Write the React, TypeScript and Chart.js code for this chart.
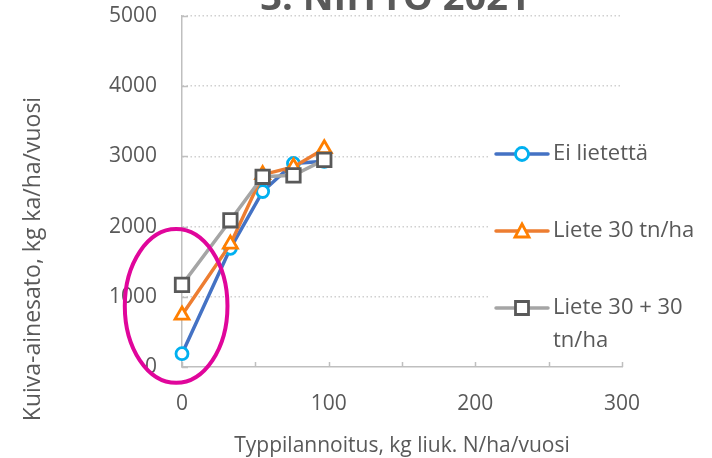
import { useEffect, useRef } from "react";
import { Chart, registerables } from "chart.js";

Chart.register(...registerables);

// ---- data ----
const nitrogenRates = [0, 33, 55, 76, 97];
const eiLietetta = [190, 1690, 2500, 2900, 2930];
const liete30 = [740, 1750, 2740, 2850, 3110];
const liete3030 = [1170, 2090, 2710, 2730, 2950];
const seriesNames = ["Ei lietettä", "Liete 30 tn/ha", "Liete 30 + 30 tn/ha"];
const xTickValues = [0, 100, 200, 300];
const xMinorTickValues = [0, 50, 100, 150, 200, 250, 300];
const yTickValues = [0, 1000, 2000, 3000, 4000, 5000];
const chartTitle = "3. NIITTO 2021";
const xTitle = "Typpilannoitus, kg liuk. N/ha/vuosi";
const yTitle = "Kuiva-ainesato, kg ka/ha/vuosi";
// highlight ellipse (data units): centre x, centre y, radius x, radius y
const highlight = { cx: -4, cy: 870, rx: 35, ry: 1095 };

const FONT = "'Open Sans', 'Noto Sans', sans-serif";
const TEXT = "#595959";

const lineColors = ["#4472C4", "#ED7D31", "#A5A5A5"];
const markerColors = ["#00B0F0", "#FF7F00", "#595959"];
const markerStyles = ["circle", "triangle", "rect"] as const;
const markerRadii = [6, 8, 9.5];

const overlayPlugin = {
  id: "overlay",
  afterDraw(chart: any) {
    const { ctx, chartArea } = chart;
    const xs = chart.scales.x;
    const ys = chart.scales.y;
    ctx.save();

    // inner tick marks
    ctx.strokeStyle = "#bfbfbf";
    ctx.lineWidth = 1.5;
    ctx.setLineDash([]);
    for (const v of xMinorTickValues) {
      const px = Math.round(xs.getPixelForValue(v)) + 0.5;
      ctx.beginPath();
      ctx.moveTo(px, chartArea.bottom);
      ctx.lineTo(px, chartArea.bottom - 5);
      ctx.stroke();
    }
    for (const v of yTickValues) {
      const py = Math.round(ys.getPixelForValue(v)) + 0.5;
      ctx.beginPath();
      ctx.moveTo(chartArea.left, py);
      ctx.lineTo(chartArea.left + 6, py);
      ctx.stroke();
    }

    // chart title (partly outside the top)
    ctx.fillStyle = TEXT;
    ctx.font = `bold 38px ${FONT}`;
    ctx.textAlign = "center";
    ctx.textBaseline = "alphabetic";
    ctx.fillText(chartTitle, 395, 10);

    // axis titles
    ctx.font = `21px ${FONT}`;
    ctx.textBaseline = "middle";
    ctx.fillText(xTitle, (chartArea.left + chartArea.right) / 2, 446);
    ctx.save();
    ctx.font = `23px ${FONT}`;
    ctx.translate(33, 259);
    ctx.rotate(-Math.PI / 2);
    ctx.fillText(yTitle, 0, 0);
    ctx.restore();

    // legend
    ctx.fillStyle = "#ffffff";
    ctx.fillRect(488, 122, 224, 240);
    const rows = [
      { y: 154, lines: ["Ei lietettä"] },
      { y: 231, lines: ["Liete 30 tn/ha"] },
      { y: 308, lines: ["Liete 30 + 30", "tn/ha"] },
    ];
    rows.forEach((r, i) => {
      ctx.strokeStyle = lineColors[i];
      ctx.lineWidth = 3.5;
      ctx.lineCap = "round";
      ctx.beginPath();
      ctx.moveTo(496, r.y);
      ctx.lineTo(548, r.y);
      ctx.stroke();
      ctx.lineCap = "butt";
      ctx.strokeStyle = markerColors[i];
      ctx.fillStyle = "#ffffff";
      ctx.lineWidth = 2.8;
      ctx.beginPath();
      if (i === 0) {
        ctx.arc(522, r.y, 6.5, 0, Math.PI * 2);
      } else if (i === 1) {
        ctx.moveTo(522, r.y - 7);
        ctx.lineTo(529, r.y + 6);
        ctx.lineTo(515, r.y + 6);
        ctx.closePath();
      } else {
        ctx.rect(515.5, r.y - 6.5, 13, 13);
      }
      ctx.fill();
      ctx.stroke();
      ctx.fillStyle = TEXT;
      ctx.font = `22px ${FONT}`;
      ctx.textAlign = "left";
      ctx.textBaseline = "middle";
      r.lines.forEach((t, j) => ctx.fillText(t, 553, r.y + j * 33));
    });

    // highlight ellipse
    const cx = xs.getPixelForValue(highlight.cx);
    const cy = ys.getPixelForValue(highlight.cy);
    const rx = Math.abs(xs.getPixelForValue(highlight.cx + highlight.rx) - cx);
    const ry = Math.abs(ys.getPixelForValue(highlight.cy + highlight.ry) - cy);
    ctx.strokeStyle = "#E0069B";
    ctx.lineWidth = 4;
    ctx.beginPath();
    ctx.ellipse(cx, cy, rx, ry, 0, 0, Math.PI * 2);
    ctx.stroke();

    ctx.restore();
  },
};

export default function App() {
  const ref = useRef<HTMLCanvasElement | null>(null);

  useEffect(() => {
    if (!ref.current) return;
    const mk = (vals: number[], i: number) => ({
      label: seriesNames[i],
      data: nitrogenRates.map((x, k) => ({ x, y: vals[k] })),
      borderColor: lineColors[i],
      backgroundColor: "#ffffff",
      borderWidth: 3.5,
      pointStyle: markerStyles[i],
      pointRadius: markerRadii[i],
      pointBorderColor: markerColors[i],
      pointBackgroundColor: "#ffffff",
      pointBorderWidth: 2.8,
      tension: 0,
      clip: false as any,
      order: 3 - i,
    });
    const chart = new Chart(ref.current, {
      type: "line",
      data: {
        datasets: [mk(eiLietetta, 0), mk(liete30, 1), mk(liete3030, 2)],
      },
      options: {
        responsive: false,
        animation: false,
        devicePixelRatio: 1,
        layout: { padding: { left: 0, top: 16, right: 90, bottom: 0 } },
        plugins: {
          legend: { display: false },
          tooltip: { enabled: false },
          title: { display: false },
        },
        scales: {
          x: {
            type: "linear",
            min: 0,
            max: 300,
            afterBuildTicks: (s: any) => {
              s.ticks = xTickValues.map((v) => ({ value: v }));
            },
            afterFit: (s: any) => {
              s.height = 91;
              s.paddingLeft = 0;
              s.paddingRight = 0;
              s.paddingTop = 0;
              s.paddingBottom = 0;
            },
            ticks: {
              color: TEXT,
              font: { family: FONT, size: 21 },
              padding: 24,
              maxRotation: 0,
              autoSkip: false,
              callback: (v: any) => String(v),
            },
            grid: { display: true, drawOnChartArea: false, drawTicks: false },
            border: { display: true, color: "#bfbfbf", width: 1.5 },
          },
          y: {
            type: "linear",
            min: 0,
            max: 5000,
            afterBuildTicks: (s: any) => {
              s.ticks = yTickValues.map((v) => ({ value: v }));
            },
            afterFit: (s: any) => {
              s.width = 182;
              s.paddingLeft = 0;
              s.paddingRight = 0;
              s.paddingTop = 0;
              s.paddingBottom = 0;
            },
            ticks: {
              color: TEXT,
              font: { family: FONT, size: 21 },
              padding: 25,
              autoSkip: false,
              callback: (v: any) => String(v),
            },
            grid: {
              drawTicks: false,
              lineWidth: 1.5,
              color: (c: any) => (c.tick && c.tick.value === 0 ? "rgba(0,0,0,0)" : "#d0d0d0"),
            },
            border: { display: true, color: "#bfbfbf", width: 1.5, dash: [1.5, 2.5] },
          },
        },
      },
      plugins: [overlayPlugin],
    } as any);
    return () => chart.destroy();
  }, []);

  return (
    <div style={{ position: "absolute", left: 0, top: 0, width: 712, height: 458, background: "#fff" }}>
      <canvas ref={ref} width={712} height={458} style={{ display: "block" }} />
    </div>
  );
}
